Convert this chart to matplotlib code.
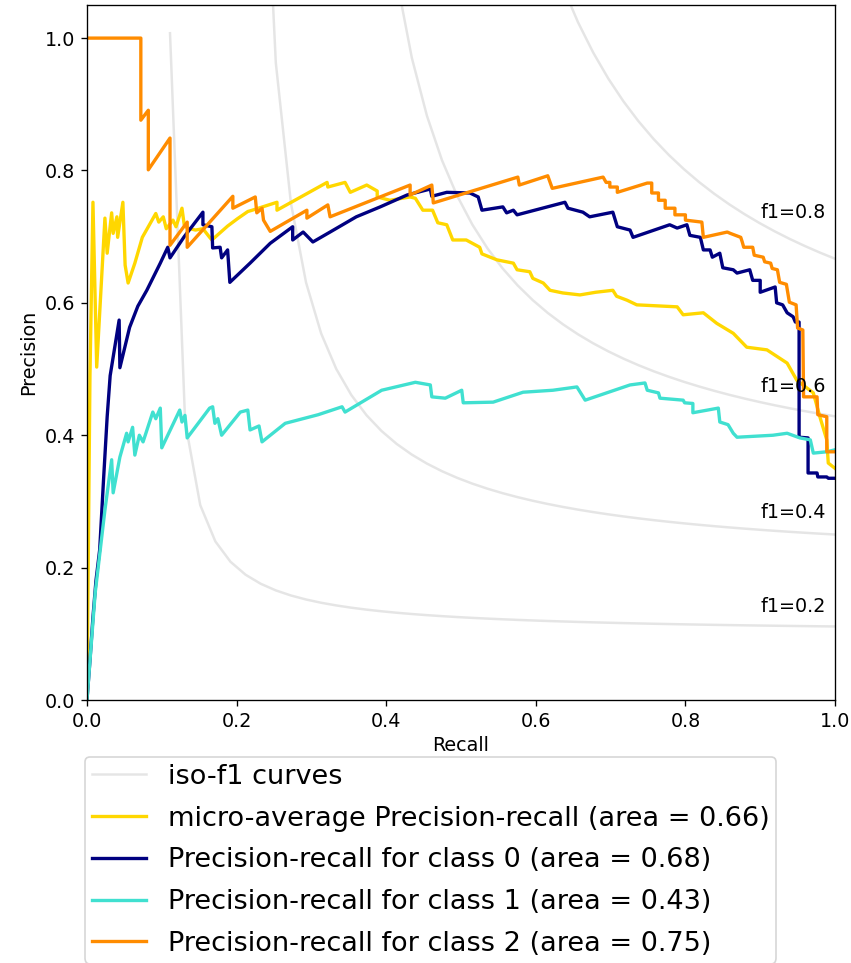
import numpy as np
import matplotlib
matplotlib.use("Agg")
import matplotlib.pyplot as plt

plt.rcParams['font.size'] = 11.5

# iso-f1 reference levels
f_scores = [0.2, 0.4, 0.6, 0.8]

# micro-average curve (recall, precision)
micro_recall = [0.000, 0.004, 0.008, 0.013, 0.024, 0.027, 0.033, 0.035, 0.040, 0.041,
                0.048, 0.051, 0.055, 0.064, 0.074, 0.087, 0.092, 0.096, 0.102, 0.106,
                0.115, 0.119, 0.127, 0.130, 0.134, 0.145, 0.155, 0.164, 0.167, 0.188,
                0.201, 0.215, 0.221, 0.254, 0.254, 0.321, 0.322, 0.345, 0.352, 0.374,
                0.388, 0.388, 0.405, 0.432, 0.439, 0.449, 0.462, 0.469, 0.481, 0.489,
                0.507, 0.525, 0.528, 0.548, 0.570, 0.575, 0.592, 0.596, 0.610, 0.619,
                0.636, 0.659, 0.680, 0.703, 0.708, 0.722, 0.735, 0.789, 0.797, 0.824,
                0.842, 0.864, 0.882, 0.909, 0.936, 0.949, 0.971, 0.980, 0.989, 0.991,
                1.000]
micro_precision = [0.000, 0.490, 0.752, 0.503, 0.728, 0.675, 0.736, 0.705, 0.730, 0.699,
                   0.752, 0.657, 0.630, 0.660, 0.699, 0.725, 0.735, 0.722, 0.730, 0.712,
                   0.725, 0.715, 0.743, 0.718, 0.713, 0.710, 0.712, 0.699, 0.695, 0.716,
                   0.727, 0.738, 0.740, 0.752, 0.740, 0.782, 0.775, 0.782, 0.767, 0.778,
                   0.769, 0.760, 0.755, 0.760, 0.758, 0.740, 0.740, 0.721, 0.718, 0.695,
                   0.695, 0.684, 0.674, 0.665, 0.660, 0.650, 0.647, 0.637, 0.630, 0.619,
                   0.615, 0.612, 0.616, 0.619, 0.610, 0.604, 0.597, 0.594, 0.582, 0.585,
                   0.569, 0.554, 0.533, 0.529, 0.509, 0.483, 0.464, 0.427, 0.393, 0.358,
                   0.350]

# class 0
c0_recall = [0.000, 0.004, 0.008, 0.012, 0.017, 0.022, 0.027, 0.031, 0.043, 0.044,
             0.057, 0.068, 0.080, 0.098, 0.108, 0.111, 0.130, 0.155, 0.155, 0.167,
             0.168, 0.178, 0.180, 0.188, 0.191, 0.218, 0.245, 0.275, 0.275, 0.289,
             0.302, 0.325, 0.360, 0.392, 0.428, 0.459, 0.461, 0.481, 0.512, 0.523,
             0.528, 0.556, 0.561, 0.570, 0.575, 0.639, 0.643, 0.663, 0.672, 0.703,
             0.709, 0.726, 0.730, 0.779, 0.789, 0.802, 0.806, 0.820, 0.824, 0.833,
             0.836, 0.846, 0.850, 0.864, 0.869, 0.886, 0.890, 0.900, 0.900, 0.920,
             0.922, 0.930, 0.936, 0.944, 0.947, 0.952, 0.952, 0.964, 0.964, 0.976,
             0.977, 0.989, 0.991, 1.000]
c0_precision = [0.000, 0.060, 0.125, 0.180, 0.227, 0.330, 0.428, 0.490, 0.574, 0.502,
                0.563, 0.595, 0.619, 0.660, 0.684, 0.668, 0.700, 0.737, 0.718, 0.715,
                0.683, 0.684, 0.668, 0.680, 0.631, 0.660, 0.690, 0.715, 0.695, 0.707,
                0.692, 0.707, 0.730, 0.745, 0.763, 0.772, 0.761, 0.767, 0.766, 0.760,
                0.740, 0.745, 0.736, 0.740, 0.733, 0.752, 0.743, 0.737, 0.730, 0.737,
                0.715, 0.710, 0.699, 0.718, 0.713, 0.718, 0.702, 0.699, 0.680, 0.680,
                0.669, 0.675, 0.653, 0.650, 0.645, 0.650, 0.634, 0.634, 0.616, 0.624,
                0.600, 0.597, 0.585, 0.579, 0.571, 0.571, 0.397, 0.396, 0.343, 0.343,
                0.337, 0.337, 0.335, 0.335]

# class 1
c1_recall = [0.000, 0.011, 0.024, 0.033, 0.035, 0.044, 0.053, 0.055, 0.061, 0.064,
             0.070, 0.075, 0.088, 0.092, 0.098, 0.100, 0.124, 0.127, 0.131, 0.134,
             0.164, 0.168, 0.171, 0.175, 0.180, 0.205, 0.215, 0.218, 0.230, 0.234,
             0.265, 0.309, 0.341, 0.345, 0.394, 0.439, 0.459, 0.461, 0.479, 0.501,
             0.503, 0.543, 0.583, 0.623, 0.655, 0.666, 0.726, 0.746, 0.749, 0.764,
             0.766, 0.797, 0.799, 0.810, 0.810, 0.844, 0.846, 0.857, 0.864, 0.869,
             0.917, 0.936, 0.953, 0.967, 0.971, 0.989, 1.000]
c1_precision = [0.000, 0.162, 0.287, 0.363, 0.313, 0.367, 0.403, 0.390, 0.412, 0.370,
                0.400, 0.390, 0.435, 0.425, 0.441, 0.381, 0.438, 0.420, 0.430, 0.396,
                0.441, 0.443, 0.418, 0.425, 0.400, 0.435, 0.438, 0.408, 0.414, 0.390,
                0.418, 0.431, 0.443, 0.435, 0.468, 0.480, 0.476, 0.458, 0.456, 0.468,
                0.449, 0.450, 0.465, 0.468, 0.473, 0.453, 0.476, 0.479, 0.468, 0.464,
                0.456, 0.453, 0.449, 0.448, 0.434, 0.441, 0.420, 0.416, 0.403, 0.397,
                0.400, 0.403, 0.396, 0.393, 0.373, 0.375, 0.378]

# class 2
c2_recall = [0.000, 0.072, 0.072, 0.082, 0.082, 0.111, 0.111, 0.134, 0.134, 0.195,
             0.195, 0.225, 0.227, 0.234, 0.236, 0.245, 0.294, 0.294, 0.322, 0.325,
             0.432, 0.432, 0.461, 0.463, 0.576, 0.578, 0.616, 0.622, 0.690, 0.694,
             0.699, 0.699, 0.709, 0.709, 0.749, 0.755, 0.755, 0.764, 0.764, 0.773,
             0.773, 0.786, 0.786, 0.800, 0.800, 0.822, 0.824, 0.856, 0.860, 0.874,
             0.876, 0.878, 0.890, 0.892, 0.904, 0.906, 0.914, 0.916, 0.923, 0.926,
             0.935, 0.939, 0.948, 0.950, 0.957, 0.958, 0.976, 0.977, 0.989, 0.989,
             1.000]
c2_precision = [1.000, 1.000, 0.876, 0.891, 0.801, 0.849, 0.687, 0.722, 0.684, 0.761,
                0.743, 0.760, 0.736, 0.743, 0.725, 0.708, 0.740, 0.728, 0.748, 0.730,
                0.778, 0.763, 0.778, 0.751, 0.790, 0.778, 0.792, 0.773, 0.790, 0.782,
                0.782, 0.775, 0.775, 0.767, 0.781, 0.781, 0.766, 0.766, 0.755, 0.755,
                0.743, 0.743, 0.733, 0.733, 0.725, 0.722, 0.699, 0.707, 0.705, 0.699,
                0.692, 0.684, 0.684, 0.672, 0.669, 0.662, 0.660, 0.652, 0.650, 0.631,
                0.628, 0.601, 0.597, 0.562, 0.559, 0.458, 0.458, 0.431, 0.428, 0.375,
                0.375]

labels = ['iso-f1 curves',
          'micro-average Precision-recall (area = 0.66)',
          'Precision-recall for class 0 (area = 0.68)',
          'Precision-recall for class 1 (area = 0.43)',
          'Precision-recall for class 2 (area = 0.75)']

fig = plt.figure(figsize=(851 / 120, 963 / 120), dpi=120)
ax = fig.add_axes([0.1022, 0.2731, 0.879, 0.7217])

lines = []
for f_score in f_scores:
    x = np.linspace(0.01, 1)
    y = f_score * x / (2 * x - f_score)
    l, = ax.plot(x[y >= 0], y[y >= 0], color='gray', alpha=0.2)
    ax.annotate('f1={0:0.1f}'.format(f_score), xy=(0.9, y[45] + 0.02))
lines.append(l)

l, = ax.plot(micro_recall, micro_precision, color='gold', lw=2)
lines.append(l)
for rec, prec, color in [(c0_recall, c0_precision, 'navy'),
                         (c1_recall, c1_precision, 'turquoise'),
                         (c2_recall, c2_precision, 'darkorange')]:
    l, = ax.plot(rec, prec, color=color, lw=2)
    lines.append(l)

ax.set_xlim([0.0, 1.0])
ax.set_ylim([0.0, 1.05])
ax.set_xlabel('Recall', labelpad=3)
ax.set_ylabel('Precision')
ax.legend(lines, labels, loc='upper left', bbox_to_anchor=(-0.003, -0.082),
          borderaxespad=0, borderpad=0.25, labelspacing=0.58,
          prop=dict(size=16.3))

fig.savefig('out.png', dpi=120)
